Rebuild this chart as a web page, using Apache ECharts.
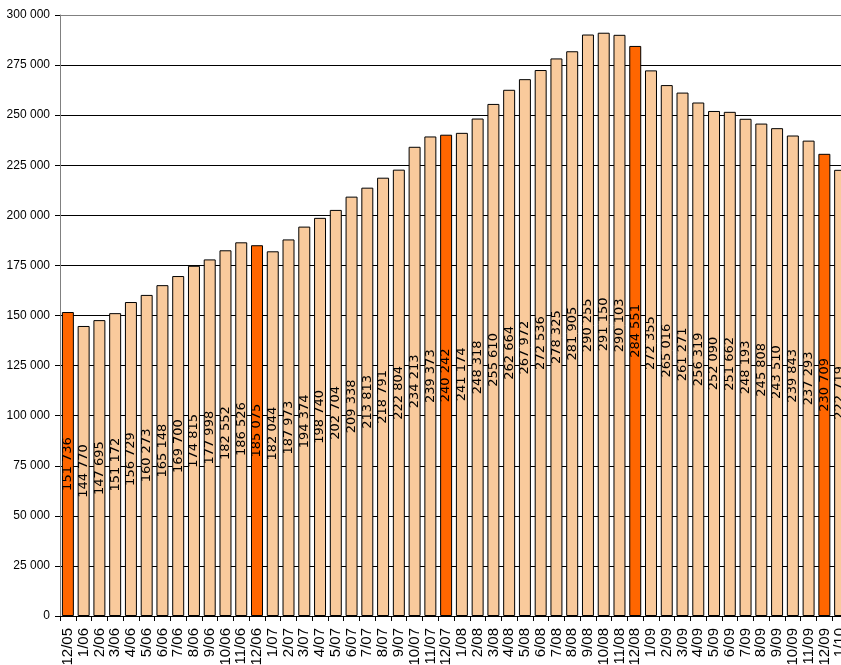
<!DOCTYPE html>
<html>
<head>
<meta charset="utf-8">
<script src="https://cdn.jsdelivr.net/npm/echarts@6/dist/echarts.min.js"></script>
<style>
  html, body { margin: 0; padding: 0; background: #fff; overflow: hidden; }
  #chart { width: 841px; height: 665px; }
</style>
</head>
<body>
<div id="chart"></div>
<script>
// months, 12/05 .. 1/10
const months = [
  "12/05",
  "1/06", "2/06", "3/06", "4/06", "5/06", "6/06", "7/06", "8/06", "9/06", "10/06", "11/06", "12/06",
  "1/07", "2/07", "3/07", "4/07", "5/07", "6/07", "7/07", "8/07", "9/07", "10/07", "11/07", "12/07",
  "1/08", "2/08", "3/08", "4/08", "5/08", "6/08", "7/08", "8/08", "9/08", "10/08", "11/08", "12/08",
  "1/09", "2/09", "3/09", "4/09", "5/09", "6/09", "7/09", "8/09", "9/09", "10/09", "11/09", "12/09",
  "1/10"
];

const values = [
  151736,
  144770, 147695, 151172, 156729, 160273, 165148, 169700, 174815, 177998, 182552, 186526, 185075,
  182044, 187973, 194374, 198740, 202704, 209338, 213813, 218791, 222804, 234213, 239373, 240242,
  241174, 248318, 255610, 262664, 267972, 272536, 278325, 281905, 290255, 291150, 290103, 284551,
  272355, 265016, 261271, 256319, 252090, 251662, 248193, 245808, 243510, 239843, 237293, 230709,
  222719
];

const yTicks = [0, 25000, 50000, 75000, 100000, 125000, 150000, 175000, 200000, 225000, 250000, 275000, 300000];

// thousands separated by a space
const fmt = (v) => String(v).replace(/\B(?=(\d{3})+(?!\d))/g, " ");

// grid lines are black, the top border line is grey
const gridColors = yTicks.map((t, i) => (i === yTicks.length - 1 ? "#808080" : "#000"));

const chart = echarts.init(document.getElementById("chart"), null, { renderer: "canvas" });

chart.setOption({
  animation: false,
  backgroundColor: "#fff",
  // the plot runs past the right edge of the picture, like the original crop
  grid: { left: 60, width: 788, top: 15, bottom: 49, containLabel: false, outerBoundsMode: "none" },
  xAxis: {
    type: "category",
    data: months,
    boundaryGap: true,
    axisLine: { lineStyle: { color: "#000", width: 1 } },
    axisTick: { show: true, length: 5, lineStyle: { color: "#000" } },
    axisLabel: {
      rotate: 90,
      interval: 0,
      margin: 12,
      color: "#000",
      fontFamily: "Liberation Sans, Arial, sans-serif",
      fontSize: 15
    }
  },
  yAxis: {
    type: "value",
    min: yTicks[0],
    max: yTicks[yTicks.length - 1],
    interval: yTicks[1] - yTicks[0],
    axisLine: { show: true, lineStyle: { color: "#808080", width: 1 } },
    axisTick: { show: true, length: 5, lineStyle: { color: "#000" } },
    splitLine: { show: true, lineStyle: { color: gridColors, width: 1 } },
    axisLabel: {
      margin: 10,
      color: "#000",
      fontFamily: "Liberation Sans, Arial, sans-serif",
      fontSize: 12,
      formatter: (v) => fmt(v)
    }
  },
  series: [{
    type: "bar",
    data: values.map((v, i) => ({
      value: v,
      // december bars are drawn in dark orange
      itemStyle: { color: months[i].startsWith("12/") ? "#ff6600" : "#f9ca9c" }
    })),
    barCategoryGap: "24%",
    itemStyle: { borderColor: "#000", borderWidth: 1 },
    label: {
      show: true,
      position: "inside",
      rotate: 90,
      color: "#000",
      fontFamily: "DejaVu Sans, sans-serif",
      fontSize: 13,
      formatter: (p) => fmt(p.value)
    }
  }]
});
</script>
</body>
</html>
